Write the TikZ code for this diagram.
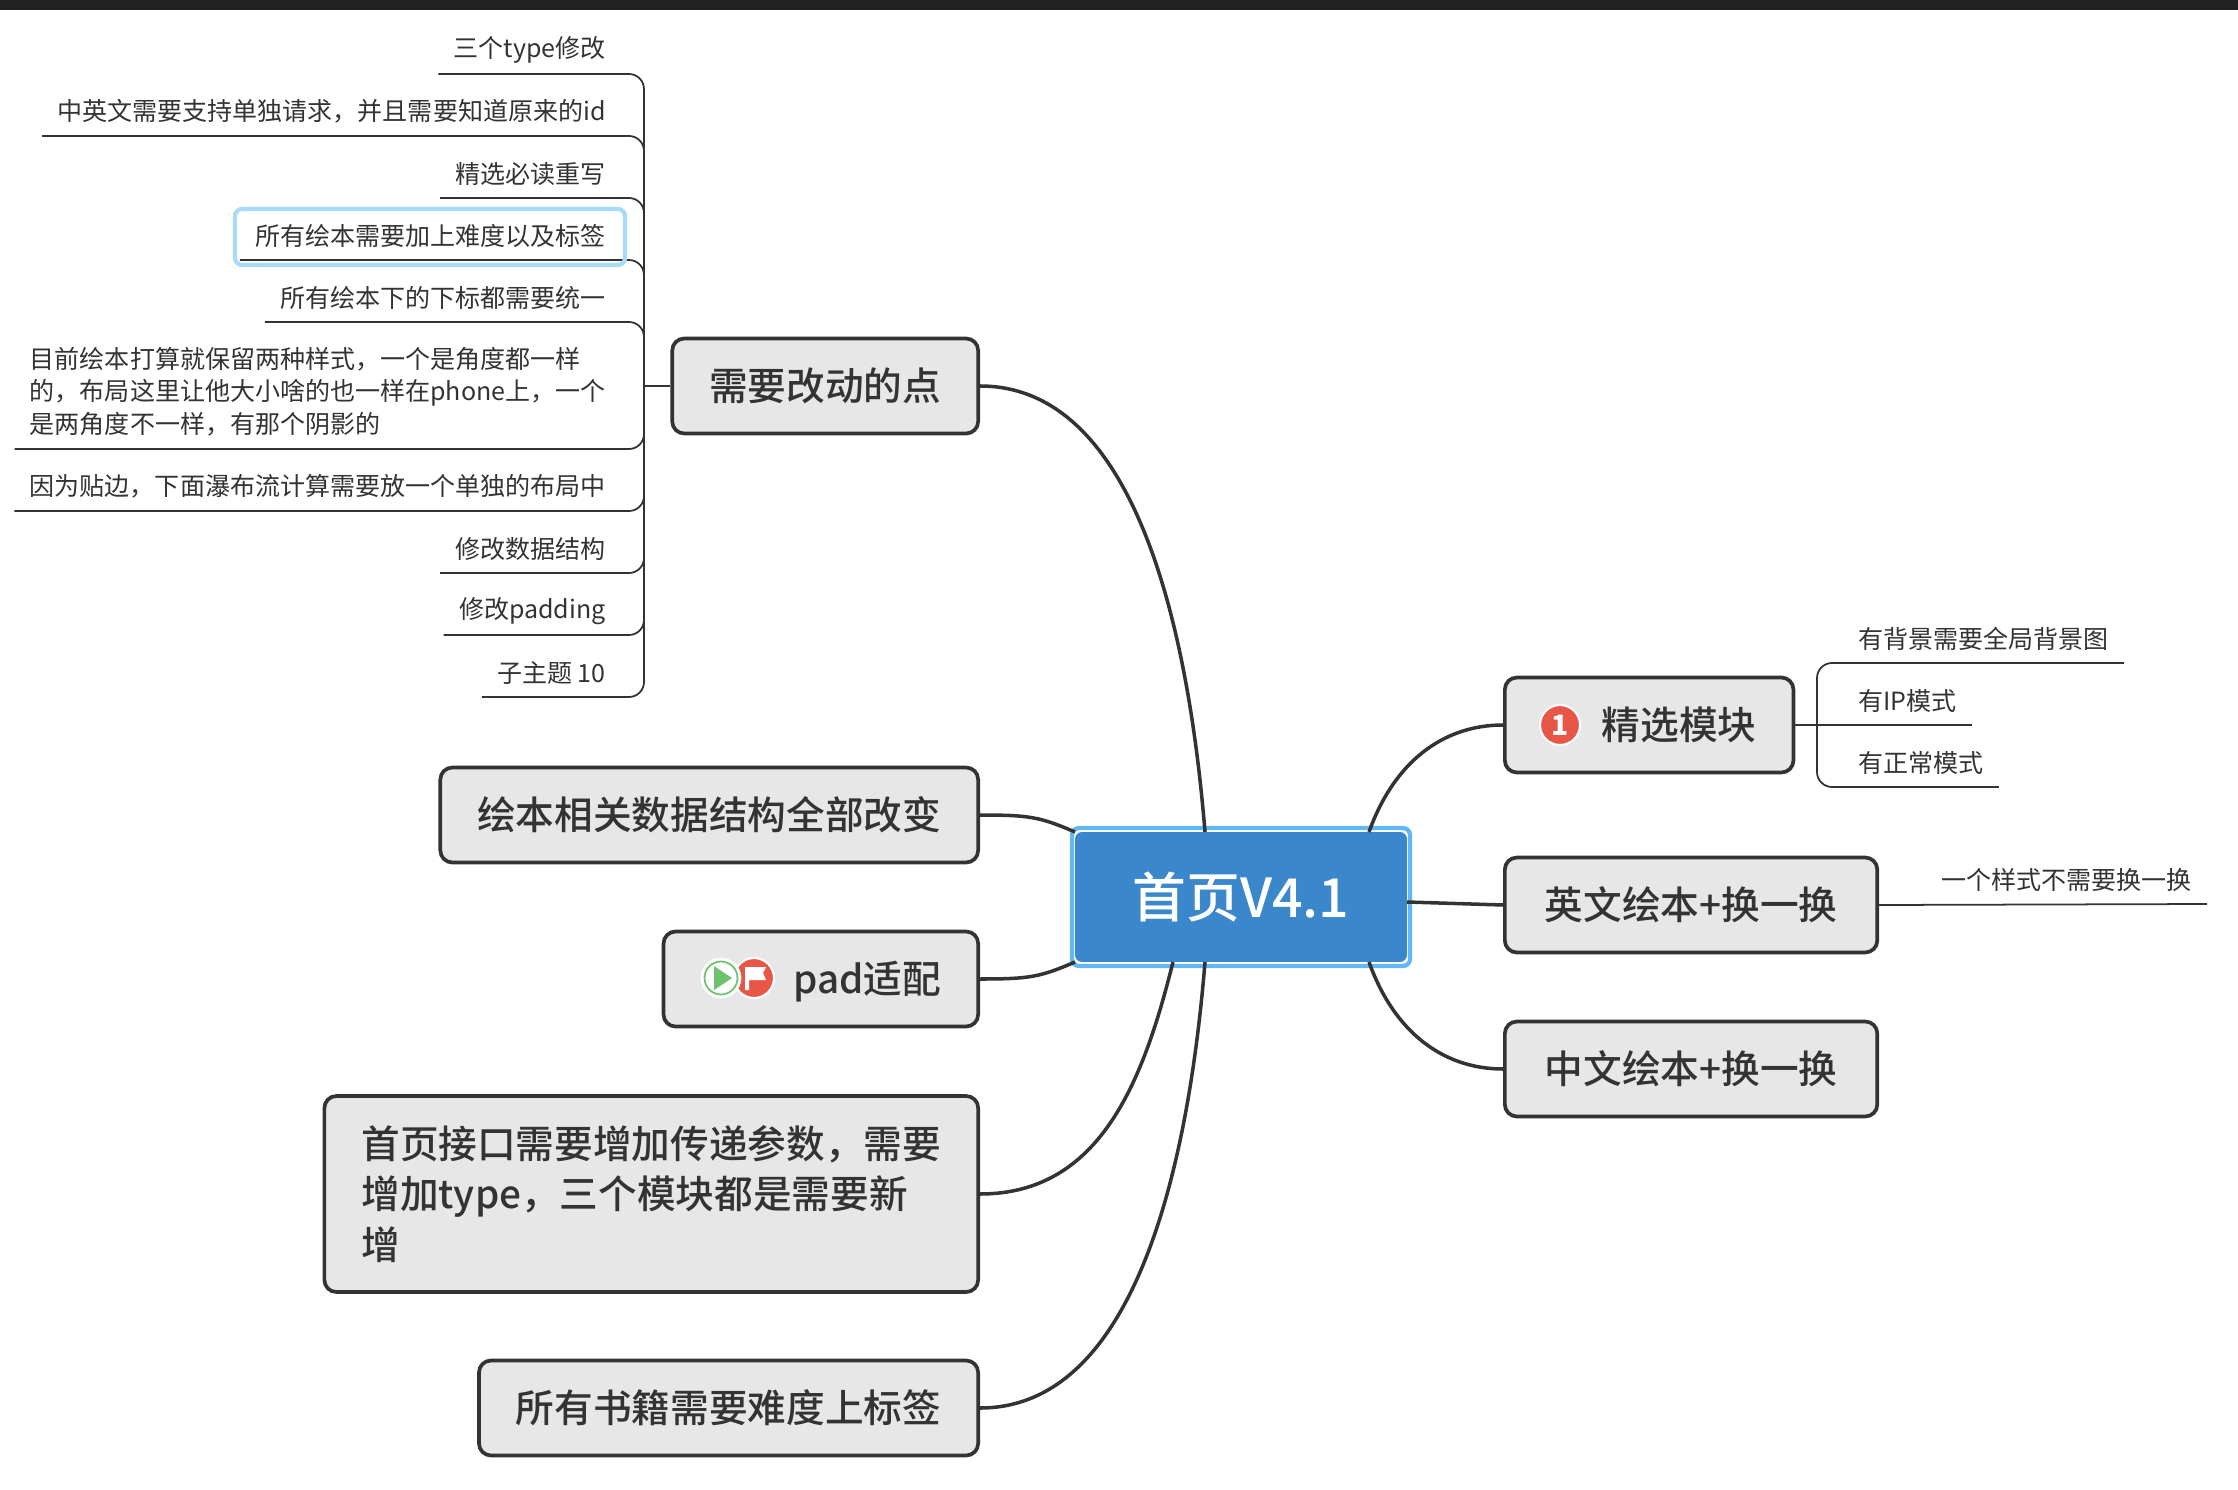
\documentclass[tikz,border=0pt]{standalone}
\usepackage{fontspec}
\setmainfont{Noto Sans CJK SC}
\newfontfamily\medfont{Noto Sans CJK SC Medium}
\definecolor{inkc}{HTML}{333333}
\definecolor{fillc}{HTML}{E7E7E7}
\definecolor{rootc}{HTML}{3B87CB}
\definecolor{halo}{HTML}{62B8F6}
\definecolor{halosub}{HTML}{A8DCF6}
\definecolor{redc}{HTML}{E75646}
\definecolor{greenc}{HTML}{6CC36C}
\begin{document}
\begin{tikzpicture}[x=0.02cm, y=-0.02cm,
    branch/.style={draw=inkc, line width=2.1pt, fill=fillc, rounded corners=0.24cm, inner xsep=0.74cm,
      inner ysep=0pt, minimum height=1.9cm, text=inkc, align=left, font=\medfont\fontsize{22}{28.8}\selectfont},
    leaf/.style={inner xsep=0.3cm, inner ysep=0pt, minimum height=0.96cm, text=inkc, align=left,
      font=\fontsize{14.25}{18.7}\selectfont},
    link/.style={draw=inkc, line width=2pt},
    sub/.style={draw=inkc, line width=1pt, rounded corners=0.3cm}]
    \useasboundingbox (0,0) rectangle (2238,1490);
    \fill[black!87] (0,0) rectangle (2238,10);

    % Tema central
    \node[fill=rootc, rounded corners=0.14cm, minimum width=6.64cm, minimum height=2.6cm, text=white,
      font=\medfont\fontsize{30.6}{36}\selectfont] (root) at (1241,897) {首页V4.1};
    \draw[halo, line width=2.4pt, rounded corners=0.14cm] (1072,828) rectangle (1410,966);
    \coordinate (rootup) at (1205,832);
    \coordinate (rootdown) at (1205,962);
    \coordinate (rootfour) at (1173,962);
    \coordinate (rootwa) at (1075,832);
    \coordinate (rootwb) at (1075,962);
    \coordinate (rootea) at (1369,832);
    \coordinate (rooteb) at (1407,902);
    \coordinate (rootec) at (1369,962);

    % Ramas izquierdas
    \node[branch, anchor=east] (change) at (980,386) {需要改动的点};
    \node[branch, anchor=east] (data) at (980,815) {绘本相关数据结构全部改变};
    \node[branch, anchor=east, text height=19.4pt, text depth=2.6pt] (pad) at (980,979) {\hspace*{1.86cm}pad适配};
    \node[branch, anchor=east, minimum height=3.92cm] (api) at (980,1194)
      {首页接口需要增加传递参数，需要\\增加type，三个模块都是需要新\\增};
    \node[branch, anchor=east] (books) at (980,1408) {所有书籍需要难度上标签};

    % Ramas derechas
    \node[branch, anchor=west] (pick) at (1503,725) {\hspace*{1.2cm}精选模块};
    \node[branch, anchor=west, minimum width=7.45cm] (en) at (1503,905) {英文绘本+换一换};
    \node[branch, anchor=west, minimum width=7.45cm] (zh) at (1503,1069) {中文绘本+换一换};

    % Curvas desde el tema central
    \draw[link] (change.east) .. controls +(150,0) and +(-18,-220) .. (rootup);
    \draw[link] (data.east) .. controls +(50,0) and +(-35,-15) .. (rootwa);
    \draw[link] (pad.east) .. controls +(50,0) and +(-35,15) .. (rootwb);
    \draw[link] (api.east) .. controls +(120,0) and +(-30,120) .. (rootfour);
    \draw[link] (books.east) .. controls +(150,0) and +(-18,220) .. (rootdown);
    \draw[link] (rootea) .. controls +(25,-70) and +(-60,0) .. (pick.west);
    \draw[link] (rooteb) -- (en.west);
    \draw[link] (rootec) .. controls +(25,70) and +(-60,0) .. (zh.west);

    % Iconos
    \node[circle, fill=redc, draw=white, line width=1.2pt, minimum size=0.8cm, inner sep=0pt, text=white,
      font=\bfseries\fontsize{16}{16}\selectfont] (one) at (1560,725) {1};
    \node[circle, fill=redc, draw=white, line width=1.2pt, minimum size=0.8cm, inner sep=0pt] (flag) at (754,978) {};
    \fill[white] (745,967) -- (766,967) -- (763,973) -- (766,980) -- (749,980) -- (749,990) -- (745,990) -- cycle;
    \node[circle, fill=white, draw=white, minimum size=0.8cm, inner sep=0pt] (play) at (721,978) {};
    \node[circle, draw=greenc, line width=1pt, minimum size=0.66cm, inner sep=0pt] (playring) at (721,978) {};
    \fill[greenc] (714,966) -- (732,978) -- (714,990) -- cycle;

    % Subtemas de la izquierda
    \node[leaf, anchor=south east] (lefta) at (621,74) {三个type修改};
    \node[leaf, anchor=south east] (leftb) at (621,136) {中英文需要支持单独请求，并且需要知道原来的id};
    \node[leaf, anchor=south east] (leftc) at (621,198) {精选必读重写};
    \node[leaf, anchor=south east] (leftd) at (621,260) {所有绘本需要加上难度以及标签};
    \node[leaf, anchor=south east] (lefte) at (621,322) {所有绘本下的下标都需要统一};
    \node[leaf, anchor=south east, minimum height=2.28cm] (leftf) at (621,449)
      {目前绘本打算就保留两种样式，一个是角度都一样\\的，布局这里让他大小啥的也一样在phone上，一个\\是两角度不一样，有那个阴影的};
    \node[leaf, anchor=south east] (leftg) at (621,511) {因为贴边，下面瀑布流计算需要放一个单独的布局中};
    \node[leaf, anchor=south east] (lefth) at (621,573) {修改数据结构};
    \node[leaf, anchor=south east] (lefti) at (621,635) {修改padding};
    \node[leaf, anchor=south east] (leftj) at (621,697) {子主题 10};
    \coordinate (lefttrunk) at (644,386);
    \draw[sub] (change.west) -- (lefttrunk);
    \draw[sub] (lefta.south west) -| (lefttrunk);
    \draw[sub] (leftb.south west) -| (lefttrunk);
    \draw[sub] (leftc.south west) -| (lefttrunk);
    \draw[sub] (leftd.south west) -| (lefttrunk);
    \draw[sub] (lefte.south west) -| (lefttrunk);
    \draw[sub] (leftf.south west) -| (lefttrunk);
    \draw[sub] (leftg.south west) -| (lefttrunk);
    \draw[sub] (lefth.south west) -| (lefttrunk);
    \draw[sub] (lefti.south west) -| (lefttrunk);
    \draw[sub] (leftj.south west) -| (lefttrunk);
    \draw[halosub, line width=2.4pt, rounded corners=0.14cm] (235,209) rectangle (625,265);

    % Subtemas de la derecha
    \node[leaf, anchor=south west] (righta) at (1843,663) {有背景需要全局背景图};
    \node[leaf, anchor=south west] (rightb) at (1843,725) {有IP模式};
    \node[leaf, anchor=south west] (rightc) at (1843,787) {有正常模式};
    \node[leaf, anchor=south west] (rightd) at (1926,904) {一个样式不需要换一换};
    \coordinate (righttrunk) at (1817,725);
    \draw[sub] (pick.east) -- (righttrunk);
    \draw[sub] (righta.south east) -| (righttrunk);
    \draw[sub] (righttrunk) -- (rightb.south east);
    \draw[sub] (rightc.south east) -| (righttrunk);
    \draw[sub] (en.east) -- (rightd.south east);
\end{tikzpicture}
\end{document}
